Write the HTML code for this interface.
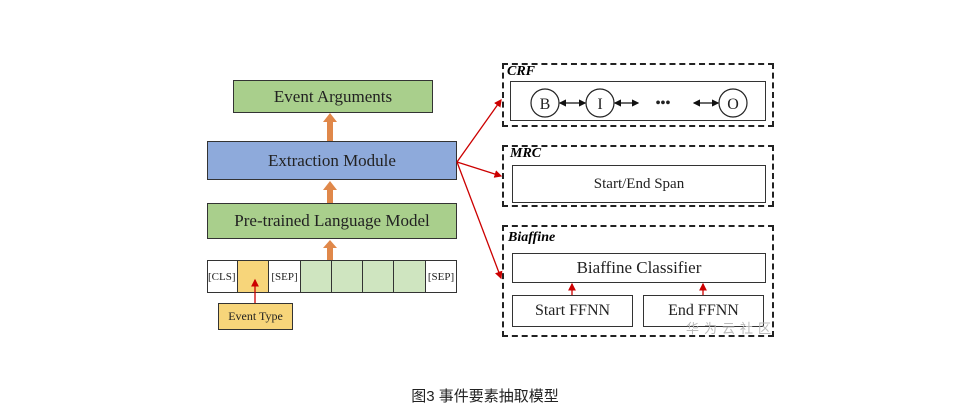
<!DOCTYPE html><html><head><style>
body{margin:0;width:970px;height:414px;background:#fff;overflow:hidden;position:relative;font-family:"Liberation Serif",serif;}
.b{position:absolute;box-sizing:border-box;border:1.5px solid #333;display:flex;align-items:center;justify-content:center;color:#222;}
.d{position:absolute;box-sizing:border-box;border:2px dashed #222;}
.l{position:absolute;font-weight:bold;font-style:italic;font-size:14px;}
</style></head><body>
<div class="b" style="left:233px;top:80px;width:200px;height:33px;background:#a9cf8c;font-size:17px">Event Arguments</div>
<div class="b" style="left:207px;top:141px;width:250px;height:39px;background:#8eaadb;font-size:17px">Extraction Module</div>
<div class="b" style="left:207px;top:203px;width:250px;height:36px;background:#a9cf8c;font-size:17px">Pre-trained Language Model</div>
<div class="b" style="left:207px;top:260px;width:31px;height:33px;font-size:11px;justify-content:flex-start">[CLS]</div>
<div class="b" style="left:237px;top:260px;width:32px;height:33px;background:#f7d57a"></div>
<div class="b" style="left:268px;top:260px;width:33px;height:33px;font-size:11px">[SEP]</div>
<div class="b" style="left:300px;top:260px;width:32px;height:33px;background:#cfe5c0"></div>
<div class="b" style="left:331px;top:260px;width:32px;height:33px;background:#cfe5c0"></div>
<div class="b" style="left:362px;top:260px;width:32px;height:33px;background:#cfe5c0"></div>
<div class="b" style="left:393px;top:260px;width:33px;height:33px;background:#cfe5c0"></div>
<div class="b" style="left:425px;top:260px;width:32px;height:33px;font-size:11px">[SEP]</div>
<div class="b" style="left:218px;top:303px;width:75px;height:27px;background:#f7d57a;font-size:12px">Event Type</div>
<div class="d" style="left:502px;top:63px;width:272px;height:64px"></div>
<div class="l" style="left:507px;top:64px">CRF</div>
<div class="b" style="left:510px;top:81px;width:256px;height:40px"></div>
<div class="d" style="left:502px;top:145px;width:272px;height:62px"></div>
<div class="l" style="left:510px;top:146px">MRC</div>
<div class="b" style="left:512px;top:165px;width:254px;height:38px;font-size:15px">Start/End Span</div>
<div class="d" style="left:502px;top:225px;width:272px;height:112px"></div>
<div class="l" style="left:508px;top:230px">Biaffine</div>
<div class="b" style="left:512px;top:253px;width:254px;height:30px;font-size:17px">Biaffine Classifier</div>
<div class="b" style="left:512px;top:295px;width:121px;height:32px;font-size:16px">Start FFNN</div>
<div class="b" style="left:643px;top:295px;width:121px;height:32px;font-size:16px">End FFNN</div>
<div style="position:absolute;left:686px;top:318px;font-family:'Noto Sans CJK SC',sans-serif;font-size:13px;color:#bbb;letter-spacing:5px">华为云社区</div>
<div style="position:absolute;left:0;width:970px;top:385px;text-align:center;font-family:'Liberation Sans','Noto Sans CJK SC',sans-serif;font-size:15px;color:#222">图3 事件要素抽取模型</div>
<svg width="970" height="414" style="position:absolute;left:0;top:0">
<defs><marker id="r" markerWidth="6" markerHeight="6" refX="5" refY="3" orient="auto"><path d="M0,0L6,3L0,6z" fill="#c00"/></marker>
<marker id="k" markerWidth="6" markerHeight="6" refX="5" refY="3" orient="auto-start-reverse"><path d="M0,0L6,3L0,6z" fill="#111"/></marker></defs>
<g fill="#e0884a">
<rect x="327" y="122" width="6" height="19"/><path d="M323,122L330,113L337,122z"/>
<rect x="327" y="190" width="6" height="13"/><path d="M323,190L330,181L337,190z"/>
<rect x="327" y="248" width="6" height="12"/><path d="M323,248L330,240L337,248z"/>
</g>
<g stroke="#c00" stroke-width="1.3" fill="none">
<line x1="457" y1="162" x2="501" y2="100" marker-end="url(#r)"/>
<line x1="457" y1="162" x2="501" y2="176" marker-end="url(#r)"/>
<line x1="457" y1="162" x2="501" y2="278" marker-end="url(#r)"/>
<line x1="255" y1="303" x2="255" y2="280" marker-end="url(#r)"/>
<line x1="572" y1="295" x2="572" y2="284" marker-end="url(#r)"/>
<line x1="703" y1="295" x2="703" y2="284" marker-end="url(#r)"/>
</g>
<g stroke="#222" stroke-width="1.2" fill="#fff">
<circle cx="545" cy="103" r="14"/><circle cx="600" cy="103" r="14"/><circle cx="733" cy="103" r="14"/>
</g>
<g font-family="Liberation Serif" font-size="16" text-anchor="middle" fill="#222">
<text x="545" y="109">B</text><text x="600" y="109">I</text><text x="733" y="109">O</text>
<text x="663" y="107" font-weight="bold" font-size="14">•••</text>
</g>
<g stroke="#111" stroke-width="1.2">
<line x1="560" y1="103" x2="585" y2="103" marker-start="url(#k)" marker-end="url(#k)"/>
<line x1="615" y1="103" x2="638" y2="103" marker-start="url(#k)" marker-end="url(#k)"/>
<line x1="694" y1="103" x2="718" y2="103" marker-start="url(#k)" marker-end="url(#k)"/>
</g>
</svg>
</body></html>
